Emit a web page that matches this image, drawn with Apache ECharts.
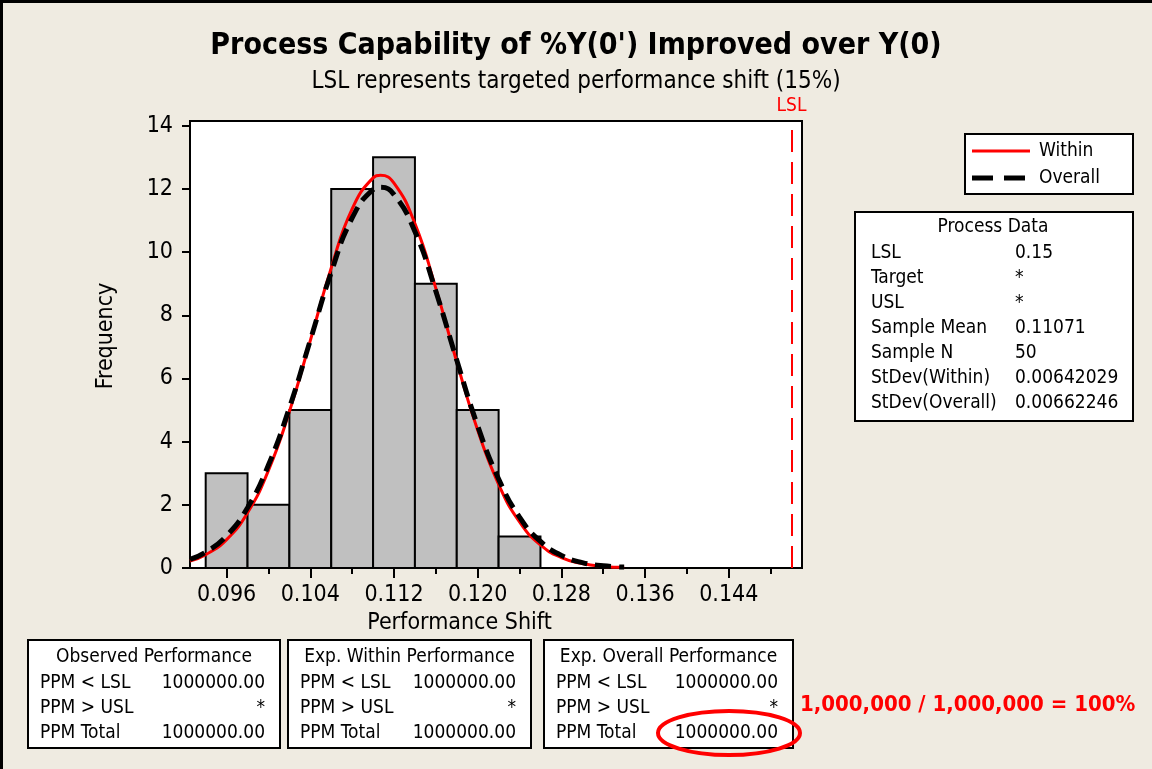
<!DOCTYPE html>
<html>
<head>
<meta charset="utf-8">
<script src="https://cdn.jsdelivr.net/npm/echarts@6/dist/echarts.min.js"></script>
<style>
  html, body { margin: 0; padding: 0; background: #efebe1; }
  #chart { width: 1152px; height: 769px; }
</style>
</head>
<body>
<div id="chart"></div>
<script>
const FONT = '"DejaVu Sans Condensed", "DejaVu Sans", sans-serif';

// histogram bins
const binStart = [0.094, 0.098, 0.102, 0.106, 0.110, 0.114, 0.118, 0.122];
const binEnd = [0.098, 0.102, 0.106, 0.110, 0.114, 0.118, 0.122, 0.126];
const counts = [3, 2, 5, 12, 13, 9, 5, 1];

// fitted curves
const curveX = [0.0925, 0.094, 0.096, 0.098, 0.100, 0.102, 0.104, 0.106, 0.108, 0.110, 0.1107,
  0.112, 0.114, 0.116, 0.118, 0.120, 0.122, 0.124, 0.126, 0.128, 0.130, 0.132, 0.134];
const withinY = [0.22, 0.42, 0.90, 1.75, 3.09, 4.95, 7.20, 9.50, 11.37, 12.35, 12.43,
  12.18, 10.90, 8.85, 6.52, 4.36, 2.65, 1.46, 0.73, 0.33, 0.14, 0.05, 0.02];
const overallY = [0.27, 0.50, 1.02, 1.91, 3.26, 5.07, 7.21, 9.36, 11.08, 11.98, 12.05,
  11.82, 10.65, 8.76, 6.58, 4.50, 2.82, 1.61, 0.84, 0.40, 0.17, 0.07, 0.03];

const lsl = 0.15;
const xMajorTicks = [0.096, 0.104, 0.112, 0.120, 0.128, 0.136, 0.144];
const xMinorTicks = [0.100, 0.108, 0.116, 0.124, 0.132, 0.140, 0.148];
const yTicks = [0, 2, 4, 6, 8, 10, 12, 14];

const legendNames = ['Within', 'Overall'];

const processLabels = ['LSL', 'Target', 'USL', 'Sample Mean', 'Sample N', 'StDev(Within)', 'StDev(Overall)'];
const processValues = ['0.15', '*', '*', '0.11071', '50', '0.00642029', '0.00662246'];

const perfTitles = ['Observed Performance', 'Exp. Within Performance', 'Exp. Overall Performance'];
const perfLabels = ['PPM < LSL', 'PPM > USL', 'PPM Total'];
const perfValues = [
  ['1000000.00', '*', '1000000.00'],
  ['1000000.00', '*', '1000000.00'],
  ['1000000.00', '*', '1000000.00']
];

const RED = '#ff0000';

function pairs(xs, ys) {
  return xs.map((x, i) => [x, ys[i]]);
}

function txt(x, y, text, extra) {
  return { type: 'text', x: x, y: y,
    style: Object.assign({ text: text, font: '19px ' + FONT, fill: '#000', verticalAlign: 'middle' }, extra || {}) };
}

function perfBox(x, w, idx) {
  const children = [
    { type: 'rect', shape: { x: x, y: 640, width: w, height: 108 },
      style: { fill: '#fff', stroke: '#000', lineWidth: 2 } },
    txt(x + w / 2, 657, perfTitles[idx], { align: 'center' })
  ];
  perfLabels.forEach((lab, r) => {
    const yy = 683 + r * 25;
    children.push(txt(x + 12, yy, lab));
    children.push(txt(x + w - 15, yy, perfValues[idx][r], { align: 'right' }));
  });
  return { type: 'group', children: children };
}

const processChildren = [
  { type: 'rect', shape: { x: 855, y: 212, width: 278, height: 209 },
    style: { fill: '#fff', stroke: '#000', lineWidth: 2 } },
  txt(993, 227, 'Process Data', { align: 'center' })
];
processLabels.forEach((lab, i) => {
  const yy = 253 + i * 25;
  processChildren.push(txt(871, yy, lab));
  processChildren.push(txt(1015, yy, processValues[i]));
});

const legendChildren = [
  { type: 'rect', shape: { x: 965, y: 134, width: 168, height: 60 },
    style: { fill: '#fff', stroke: '#000', lineWidth: 2 } },
  { type: 'line', shape: { x1: 972, y1: 151, x2: 1030, y2: 151 },
    style: { stroke: RED, lineWidth: 3 } },
  { type: 'line', shape: { x1: 972, y1: 178, x2: 1030, y2: 178 },
    style: { stroke: '#000', lineWidth: 5, lineDash: [21, 11] } },
  txt(1039, 151, legendNames[0]),
  txt(1039, 178, legendNames[1])
];

const chart = echarts.init(document.getElementById('chart'));

chart.setOption({
  backgroundColor: '#efebe1',
  animation: false,
  textStyle: { fontFamily: FONT },
  title: [
    { text: "Process Capability of %Y(0') Improved over Y(0)", left: 'center', top: 26,
      textStyle: { fontSize: 30, fontWeight: 'bold', color: '#000', fontFamily: FONT } },
    { text: 'LSL represents targeted performance shift (15%)', left: 'center', top: 65,
      textStyle: { fontSize: 24, fontWeight: 'normal', color: '#000', fontFamily: FONT } }
  ],
  grid: {
    left: 190, right: 350, top: 121, bottom: 201,
    show: true, backgroundColor: '#fff', borderColor: '#000', borderWidth: 2
  },
  xAxis: [
    {
      type: 'value', min: 0.0925, max: 0.151,
      name: 'Performance Shift', nameLocation: 'middle', nameGap: 44,
      nameTextStyle: { fontSize: 23, color: '#000', padding: [0, 73, 0, 0] },
      axisLine: { lineStyle: { color: '#000', width: 2 } },
      axisTick: { length: 10, lineStyle: { color: '#000', width: 2 }, customValues: xMajorTicks },
      axisLabel: { fontSize: 23, color: '#000', margin: 16, customValues: xMajorTicks,
        formatter: v => v.toFixed(3) },
      splitLine: { show: false }
    },
    {
      type: 'value', min: 0.0925, max: 0.151, position: 'bottom',
      axisLine: { show: false },
      axisTick: { length: 6, lineStyle: { color: '#000', width: 2 }, customValues: xMinorTicks },
      axisLabel: { show: false },
      splitLine: { show: false }
    }
  ],
  yAxis: {
    type: 'value', min: 0, max: 14.15,
    name: 'Frequency', nameLocation: 'middle', nameGap: 72,
    nameTextStyle: { fontSize: 23, color: '#000', padding: [0, 0, 0, 17] },
    axisLine: { show: true, lineStyle: { color: '#000', width: 2 } },
    axisTick: { show: true, length: 8, lineStyle: { color: '#000', width: 2 }, customValues: yTicks },
    axisLabel: { fontSize: 23, color: '#000', margin: 17, customValues: yTicks },
    splitLine: { show: false }
  },
  series: [
    {
      name: 'Histogram',
      type: 'custom',
      data: binStart.map((b, i) => [b, binEnd[i], counts[i]]),
      encode: { x: [0, 1], y: 2 },
      renderItem: function (params, api) {
        const p0 = api.coord([api.value(0), 0]);
        const p1 = api.coord([api.value(1), api.value(2)]);
        return {
          type: 'rect',
          shape: { x: p0[0], y: p1[1], width: p1[0] - p0[0], height: p0[1] - p1[1] },
          style: { fill: '#c0c0c0', stroke: '#000', lineWidth: 2 }
        };
      },
      z: 2
    },
    {
      name: legendNames[0],
      type: 'line',
      data: pairs(curveX, withinY),
      smooth: true,
      symbol: 'none',
      lineStyle: { color: RED, width: 3 },
      z: 3,
      markLine: {
        silent: true,
        symbol: 'none',
        data: [{ xAxis: lsl }],
        lineStyle: { color: RED, width: 2, type: [22, 10] },
        label: { show: true, position: 'end', formatter: 'LSL', color: RED, fontSize: 19, fontFamily: FONT, distance: 5 }
      }
    },
    {
      name: legendNames[1],
      type: 'line',
      data: pairs(curveX, overallY),
      smooth: true,
      symbol: 'none',
      lineStyle: { color: '#000', width: 5, type: [16, 8] },
      z: 4
    }
  ],
  graphic: [
    { type: 'line', shape: { x1: 0, y1: 1.5, x2: 1152, y2: 1.5 }, style: { stroke: '#000', lineWidth: 3 } },
    { type: 'line', shape: { x1: 1.5, y1: 0, x2: 1.5, y2: 769 }, style: { stroke: '#000', lineWidth: 3 } },
    { type: 'group', children: legendChildren },
    { type: 'group', children: processChildren },
    perfBox(28, 252, 0),
    perfBox(288, 243, 1),
    perfBox(544, 249, 2),
    { type: 'ellipse', shape: { cx: 729, cy: 733, rx: 71, ry: 22 },
      style: { fill: 'none', stroke: RED, lineWidth: 4 }, z: 10 },
    txt(800, 705, '1,000,000 / 1,000,000 = 100%', { font: 'bold 22px ' + FONT, fill: RED })
  ]
});
</script>
</body>
</html>
